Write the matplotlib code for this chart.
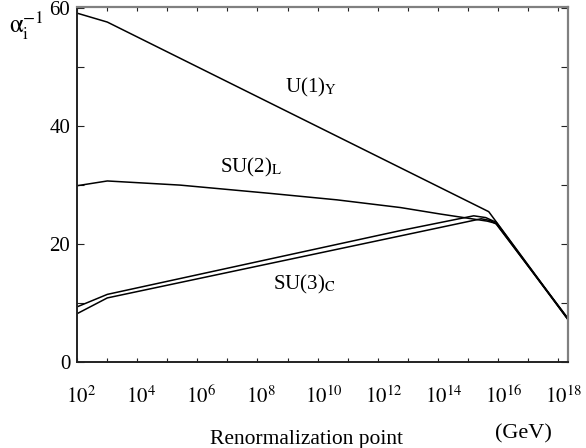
"""
Running inverse gauge couplings vs renormalization point
"""

import numpy as np
import matplotlib
matplotlib.use('Agg')
import matplotlib.pyplot as plt
import matplotlib.transforms as mtransforms

plt.rcParams['font.family'] = ['Liberation Serif', 'DejaVu Serif']
plt.rcParams['mathtext.fontset'] = 'stix'

# log10(mu / GeV) and alpha^-1
u1_logmu = [2, 3, 15.7, 18.33]
u1_inv = [59.1, 57.6, 25.5, 7.4]

su2_logmu = [2, 3, 5.42, 8.42, 10.65, 12.76, 14.09, 15.65, 15.95, 18.33]
su2_inv = [29.9, 30.7, 30.0, 28.6, 27.5, 26.2, 25.1, 23.9, 23.5, 7.3]

su3a_logmu = [2, 3, 12.76, 15.2, 15.6, 15.95, 18.33]
su3a_inv = [9.4, 11.5, 22.3, 24.8, 24.5, 23.7, 7.3]

su3b_logmu = [2, 3, 12.76, 15.45, 15.75, 15.95, 18.33]
su3b_inv = [8.25, 10.9, 21.4, 24.3, 24.0, 23.4, 7.5]

yticks = [0, 20, 40, 60]

fig = plt.figure(figsize=(5.86, 4.48), dpi=100)
ax = fig.add_axes([0.1319, 0.1913, 0.8369, 0.7937])

for lm, v in [(u1_logmu, u1_inv), (su2_logmu, su2_inv),
              (su3a_logmu, su3a_inv), (su3b_logmu, su3b_inv)]:
    ax.plot(10.0 ** np.array(lm), v, color='black', linewidth=1.1)

ax.set_xscale('log')
ax.set_xlim(1e2, 10 ** 18.33)
ax.set_ylim(0, 60.2)

exps = list(range(2, 19))
ax.set_xticks([10.0 ** e for e in exps])
ax.set_xticklabels([f'$10^{{{e}}}$' if e % 2 == 0 else '' for e in exps], fontsize=15)
ax.xaxis.set_minor_locator(matplotlib.ticker.NullLocator())
ax.set_yticks(yticks)
ax.set_yticklabels([str(t) for t in yticks], fontsize=15)
ax.set_yticks([10, 30, 50], minor=True)

ax.tick_params(axis='x', which='both', direction='in', length=3, width=0.8,
               top=True, pad=17, color='#222222')
ax.tick_params(axis='y', which='both', direction='in', length=5, width=0.8,
               right=True, pad=5, color='#222222')

# keep the "10" of each label centred on its tick, exponent hanging right
for e, lab in zip(exps, ax.get_xticklabels()):
    dx = 2.5 if e < 10 else 4.5
    lab.set_transform(lab.get_transform() +
                      mtransforms.ScaledTranslation(dx / 72, 0, fig.dpi_scale_trans))

for s in ['left', 'bottom']:
    ax.spines[s].set_color('#222222')
    ax.spines[s].set_linewidth(1.4)
for s in ['top', 'right']:
    ax.spines[s].set_color('#808080')
    ax.spines[s].set_linewidth(1.6)

# curve labels
ax.text(10 ** 8.92, 45.7, r'U(1)$_{\mathrm{Y}}$', fontsize=15, ha='left', va='baseline')
ax.text(10 ** 6.75, 32.2, r'SU(2)$_{\mathrm{L}}$', fontsize=15, ha='left', va='baseline')
ax.text(10 ** 8.53, 12.35, r'SU(3)$_{\mathrm{C}}$', fontsize=15, ha='left', va='baseline')

fig.text(9 / 586, 1 - 26 / 448, r'$\mathrm{\alpha}_{\mathrm{i}}^{-1}$', fontsize=18,
         ha='left', va='center')
fig.text(307 / 586, 1 - 439 / 448, 'Renormalization point', fontsize=15.5,
         ha='center', va='center')
fig.text(523 / 586, 1 - 434 / 448, '(GeV)', fontsize=16, ha='center', va='center')

plt.savefig('out.png', dpi=100)
plt.close()
